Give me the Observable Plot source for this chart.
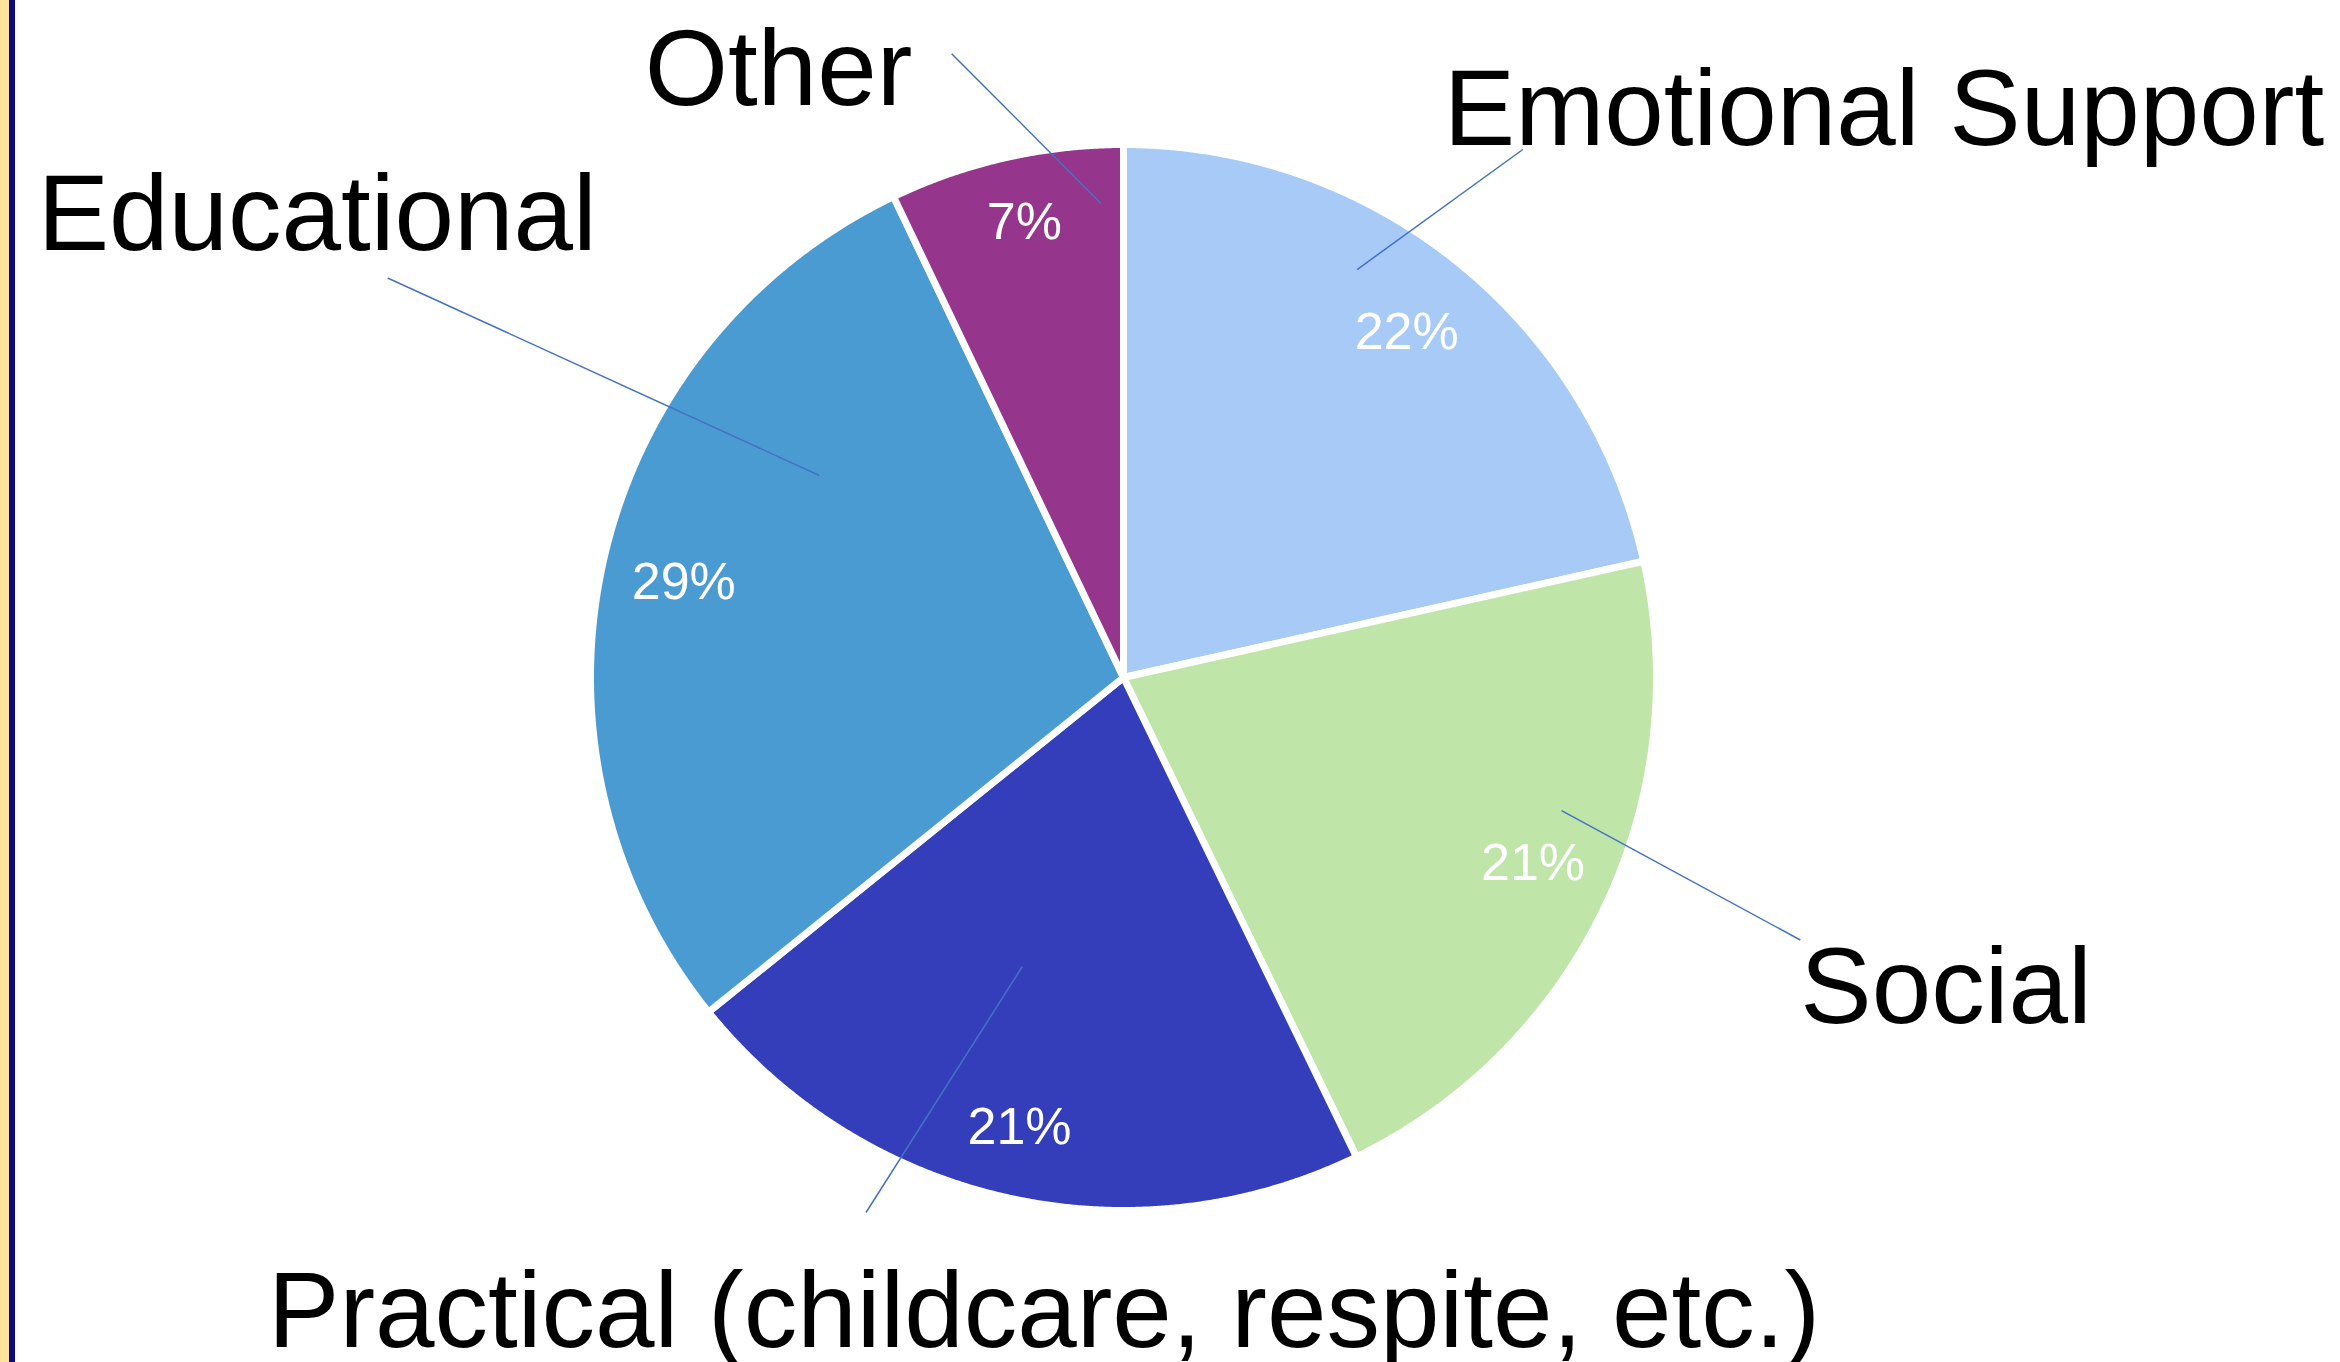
<!DOCTYPE html>
<html>
<head>
<meta charset="utf-8">
<script src="https://cdn.jsdelivr.net/npm/d3@7"></script>
<script src="https://cdn.jsdelivr.net/npm/@observablehq/plot@0.6"></script>
<style>
  html, body { margin: 0; padding: 0; background: #ffffff; }
  #wrap { position: relative; width: 2340px; height: 1362px; overflow: hidden; background: #ffffff; }
  #frame { position: absolute; left: 0; top: 0; width: 9px; height: 1362px; background: #fde49b; border-right: 6px solid #0b0b86; }
  svg { display: block; }
</style>
</head>
<body>
<div id="wrap"><div id="chart"></div><div id="frame"></div></div>
<script>
// ---- data ----
const categories = ["Emotional Support", "Social", "Practical (childcare, respite, etc.)", "Educational", "Other"];
const shares = [21.5, 21.3, 21.4, 28.7, 7.1];   // percent of responses
const pctLabels = shares.map(v => Math.round(v) + "%");

// ---- styles / layout ----
const sliceColors = ["#a8caf7", "#bfe5a9", "#343ebb", "#4a9bd1", "#95358c"];
const W = 2340, H = 1362;
const cx = 1123, cy = 677, R = 533;          // pie centre and radius (px)
// percent labels: angle shift from slice middle (°) and radius (radius units)
const pctLayout = [
  {dAng: 0.7, r: 0.837},
  {dAng: -1.3, r: 0.844},
  {dAng: 0.4, r: 0.867},
  {dAng: -0.6, r: 0.844},
  {dAng: 0.5, r: 0.874}
];
// leader lines: inner end (angle°, r) and outer end (angle°, r); label offset from outer end (px)
const leaderLayout = [
  {inner: [29.8, 0.882], outer: [37.1, 1.242], off: [-79, -5]},
  {inner: [106.9, 0.859], outer: [111.2, 1.362], off: [0, 83]},
  {inner: [199.3, 0.575], outer: [205.7, 1.114], off: [-598, 134]},
  {inner: [303.6, 0.685], outer: [298.5, 1.571], off: [-350, -28]},
  {inner: [357.3, 0.890], outer: [344.6, 1.214], off: [-307, 51]}
];
const font = "'Liberation Sans', Arial, Helvetica, sans-serif";

// ---- geometry (angles clockwise from 12 o'clock, y up) ----
const polar = (deg, r) => { const a = deg * Math.PI / 180; return {x: r * Math.sin(a), y: r * Math.cos(a)}; };
const total = d3.sum(shares);
let acc = 0;
const slices = categories.map((cat, i) => {
  const a0 = acc / total * 360; acc += shares[i]; const a1 = acc / total * 360;
  return {cat, a0, a1, mid: (a0 + a1) / 2, pct: pctLabels[i]};
});
const slicePts = [];
for (const s of slices) {
  slicePts.push({cat: s.cat, x: 0, y: 0});
  const n = Math.ceil((s.a1 - s.a0) / 0.2);
  for (let k = 0; k <= n; k++) {
    const p = polar(s.a0 + (s.a1 - s.a0) * k / n, 1);
    slicePts.push({cat: s.cat, x: p.x, y: p.y});
  }
  slicePts.push({cat: s.cat, x: 0, y: 0});
}
const pctRows = slices.map((s, i) => ({...polar(s.mid + pctLayout[i].dAng, pctLayout[i].r), text: s.pct}));
const leaderRows = categories.map((cat, i) => {
  const L = leaderLayout[i];
  const p1 = polar(...L.inner), p2 = polar(...L.outer);
  return {cat, x1: p1.x, y1: p1.y, x2: p2.x, y2: p2.y,
          tx: p2.x + L.off[0] / R, ty: p2.y - L.off[1] / R};
});

const chart = Plot.plot({
  width: W, height: H,
  marginTop: 0, marginRight: 0, marginBottom: 0, marginLeft: 0,
  style: {background: "transparent", overflow: "visible"},
  x: {domain: [-cx / R, (W - cx) / R], range: [0, W], axis: null},
  y: {domain: [cy / R, (cy - H) / R], range: [0, H], axis: null},
  color: {domain: categories, range: sliceColors},
  marks: [
    Plot.line(slicePts, {x: "x", y: "y", z: "cat", fill: "cat", stroke: "white", strokeWidth: 7}),
    Plot.text(pctRows, {x: "x", y: "y", text: "text", fill: "white", fontSize: 52,
      fontFamily: font, textAnchor: "middle", lineAnchor: "middle"}),
    Plot.link(leaderRows, {x1: "x1", y1: "y1", x2: "x2", y2: "y2", stroke: "#4472c4", strokeWidth: 1.5}),
    Plot.text(leaderRows, {x: "tx", y: "ty", text: "cat", fill: "black", fontSize: 107,
      fontFamily: font, textAnchor: "start", lineAnchor: "bottom"})
  ]
});
document.getElementById("chart").appendChild(chart);
</script>
</body>
</html>
